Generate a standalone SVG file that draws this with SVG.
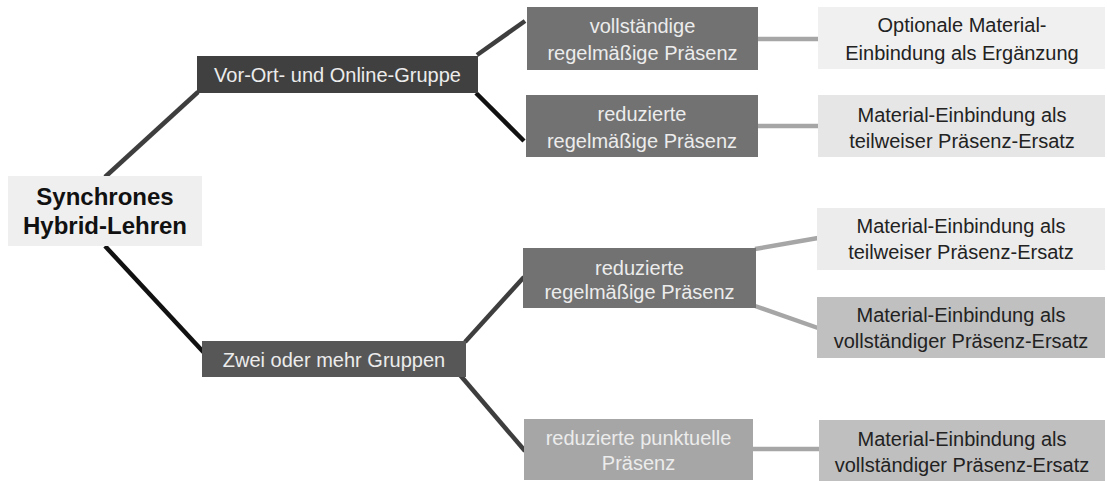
<svg xmlns="http://www.w3.org/2000/svg" width="1107" height="481" viewBox="0 0 1107 481">
<style>
text{font-family:"Liberation Sans",Arial,sans-serif;font-size:20px;text-anchor:middle}
.lt{fill:#ececec}
.dk{fill:#222}
.root{font-weight:bold;font-size:24px;fill:#111}
.c{fill:none;stroke-width:4.5;stroke-linecap:butt}
.cd{stroke:#3e3e3e}
.cb{stroke:#111}
.cl{stroke:#a6a6a6}
</style>
<rect width="1107" height="481" fill="#fff"/>
<g id="connectors">
<line class="c cd" x1="105" y1="177" x2="198" y2="92"/>
<line class="c cb" x1="105" y1="246" x2="208" y2="357"/>
<line class="c cd" x1="477" y1="55" x2="525" y2="21"/>
<line class="c cb" x1="476" y1="93" x2="524" y2="141"/>
<line class="c cd" x1="465" y1="342" x2="524" y2="277"/>
<line class="c cd" x1="460" y1="375" x2="525" y2="451"/>
<line class="c cl" x1="758" y1="39" x2="818" y2="39"/>
<line class="c cl" x1="758" y1="126" x2="818" y2="126"/>
<line class="c cl" x1="755" y1="249" x2="818" y2="238"/>
<line class="c cl" x1="755" y1="306" x2="818" y2="328"/>
<line class="c cl" x1="753" y1="449" x2="819" y2="449"/>
</g>
<g id="root">
<rect x="8" y="176" width="194" height="70" fill="#efefef"/>
<text class="root" x="105" y="205">Synchrones</text>
<text class="root" x="105" y="234">Hybrid-Lehren</text>
</g>
<g id="vorort">
<rect x="197" y="56" width="281" height="37" fill="#404040"/>
<text class="lt" x="337.5" y="82">Vor-Ort- und Online-Gruppe</text>
</g>
<g id="zwei">
<rect x="202" y="341" width="264" height="36" fill="#575757"/>
<text class="lt" x="334" y="367">Zwei oder mehr Gruppen</text>
</g>
<g id="voll">
<rect x="527" y="7" width="231" height="63" fill="#727272"/>
<text class="lt" x="642.5" y="33">vollständige</text>
<text class="lt" x="642.5" y="60">regelmäßige Präsenz</text>
</g>
<g id="red1">
<rect x="526" y="95" width="232" height="62" fill="#727272"/>
<text class="lt" x="642" y="121">reduzierte</text>
<text class="lt" x="642" y="148">regelmäßige Präsenz</text>
</g>
<g id="red2">
<rect x="523" y="248" width="233" height="60" fill="#727272"/>
<text class="lt" x="639.5" y="275">reduzierte</text>
<text class="lt" x="639.5" y="299">regelmäßige Präsenz</text>
</g>
<g id="punkt">
<rect x="524" y="419" width="229" height="61" fill="#a6a6a6"/>
<text class="lt" x="638.5" y="445">reduzierte punktuelle</text>
<text class="lt" x="638.5" y="470">Präsenz</text>
</g>
<g id="opt">
<rect x="818" y="7" width="287" height="62" fill="#f0f0f0"/>
<text class="dk" x="962" y="32">Optionale Material-</text>
<text class="dk" x="962" y="60">Einbindung als Ergänzung</text>
</g>
<g id="teil1">
<rect x="818" y="95" width="287" height="62" fill="#e6e6e6"/>
<text class="dk" x="962" y="122">Material-Einbindung als</text>
<text class="dk" x="962" y="148">teilweiser Präsenz-Ersatz</text>
</g>
<g id="teil2">
<rect x="817" y="208" width="288" height="62" fill="#ececec"/>
<text class="dk" x="961" y="233">Material-Einbindung als</text>
<text class="dk" x="961" y="259">teilweiser Präsenz-Ersatz</text>
</g>
<g id="voll2">
<rect x="817" y="297" width="288" height="61" fill="#c0c0c0"/>
<text class="dk" x="961" y="322">Material-Einbindung als</text>
<text class="dk" x="961" y="348">vollständiger Präsenz-Ersatz</text>
</g>
<g id="voll3">
<rect x="819" y="420" width="286" height="61" fill="#bfbfbf"/>
<text class="dk" x="962" y="446">Material-Einbindung als</text>
<text class="dk" x="962" y="472">vollständiger Präsenz-Ersatz</text>
</g>
</svg>
